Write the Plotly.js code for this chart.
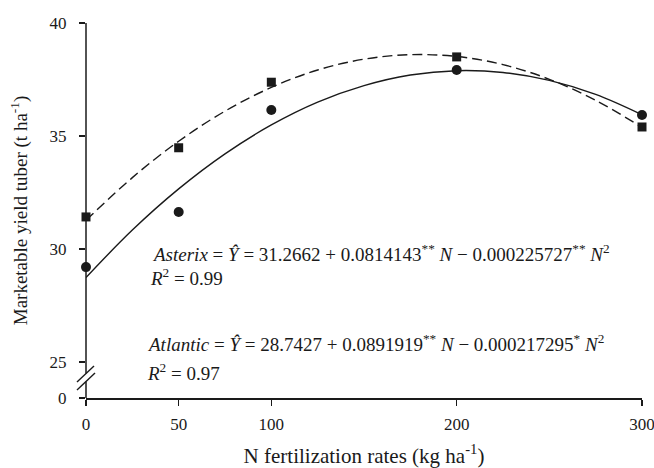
<!DOCTYPE html>
<html>
<head>
<meta charset="utf-8">
<script src="https://cdn.plot.ly/plotly-3.0.1.min.js"></script>
<style>html,body{margin:0;padding:0;background:#fff;}#chart{width:654px;height:468px;}</style>
</head>
<body>
<div id="chart"></div>
<script>
// Observed means
const rates = [0, 50, 100, 200, 300];
const asterixObs = [31.42, 34.48, 37.38, 38.50, 35.40];
const atlanticObs = [29.20, 31.64, 36.15, 37.92, 35.93];

// Fitted curves
const curveN = [0, 25, 50, 75, 100, 125, 150, 175, 200, 225, 250, 275, 300];
const asterixFit = [31.27, 33.16, 34.77, 36.10, 37.15, 37.92, 38.40, 38.60, 38.52, 38.16, 37.51, 36.58, 35.38];
const atlanticFit = [28.74, 30.84, 32.66, 34.21, 35.49, 36.50, 37.23, 37.70, 37.89, 37.81, 37.46, 36.84, 35.94];

// Axis ticks
const xTicks = [0, 50, 100, 200, 300];
const yTickVals = [23.41, 25, 30, 35, 40];
const yTickText = ['0', '25', '30', '35', '40'];

const ink = '#1a1a1a';
const serif = 'Liberation Serif, Times New Roman, DejaVu Serif';

const traces = [
  {x: curveN, y: asterixFit, mode: 'lines', line: {color: ink, width: 1.4, dash: '10px,5px', shape: 'spline', smoothing: 1}, hoverinfo: 'skip'},
  {x: curveN, y: atlanticFit, mode: 'lines', line: {color: ink, width: 1.4, shape: 'spline', smoothing: 1}, hoverinfo: 'skip'},
  {x: rates, y: asterixObs, mode: 'markers', marker: {symbol: 'square', size: 9, color: ink}, cliponaxis: false},
  {x: rates, y: atlanticObs, mode: 'markers', marker: {symbol: 'circle', size: 10, color: ink}, cliponaxis: false}
];

const sup = s => '<sup><span style="color:' + ink + '">' + s + '</span></sup>';

const layout = {
  width: 654, height: 468,
  margin: {l: 86, r: 12, t: 23, b: 70},
  paper_bgcolor: '#fff', plot_bgcolor: '#fff',
  showlegend: false,
  font: {family: serif, color: ink, size: 17},
  xaxis: {
    range: [0, 300], tickvals: xTicks, ticks: 'outside', ticklen: 6, tickwidth: 1.3, tickcolor: ink,
    showline: true, linecolor: ink, linewidth: 1.5, showgrid: false, zeroline: false,
    ticklabelstandoff: 4, ticklabeloverflow: 'allow',
    tickfont: {family: serif, size: 17, color: ink},
    title: {text: 'N fertilization rates (kg ha' + sup('-1') + ')', font: {family: serif, size: 21, color: ink}, standoff: 15}
  },
  yaxis: {
    range: [23.41, 40], tickvals: yTickVals, ticktext: yTickText, ticks: 'outside', ticklen: 6, tickwidth: 1.3, tickcolor: ink,
    showline: false, showgrid: false, zeroline: false, ticklabelstandoff: 9,
    tickfont: {family: serif, size: 17, color: ink},
    title: {text: 'Marketable yield tuber (t ha' + sup('-1') + ')', font: {family: serif, size: 19, color: ink}, standoff: 16}
  },
  shapes: [
    {type: 'line', xref: 'paper', yref: 'paper', x0: 0, x1: 0, y0: 0.0652, y1: 1, line: {color: ink, width: 1.5}},
    {type: 'line', xref: 'paper', yref: 'paper', x0: 0, x1: 0, y0: 0, y1: 0.044, line: {color: ink, width: 1.5}},
    {type: 'line', xref: 'paper', yref: 'paper', x0: -0.0162, x1: 0.0144, y0: 0.0427, y1: 0.0853, line: {color: ink, width: 1.4}},
    {type: 'line', xref: 'paper', yref: 'paper', x0: -0.0162, x1: 0.0162, y0: 0.0213, y1: 0.0667, line: {color: ink, width: 1.4}}
  ],
  annotations: [
    {xref: 'paper', yref: 'paper', x: 0.115, y: 0.387, xanchor: 'left', yanchor: 'middle', showarrow: false,
     font: {family: serif, size: 19, color: ink},
     text: '<i>Asterix</i> = <i>Ŷ</i> = 31.2662 + 0.0814143' + sup('**') + ' <i>N</i> − 0.000225727' + sup('**') + ' <i>N</i>' + sup('2')},
    {xref: 'paper', yref: 'paper', x: 0.1115, y: 0.323, xanchor: 'left', yanchor: 'middle', showarrow: false,
     font: {family: serif, size: 19, color: ink},
     text: '<i>R</i>' + sup('2') + ' = 0.99'},
    {xref: 'paper', yref: 'paper', x: 0.106, y: 0.147, xanchor: 'left', yanchor: 'middle', showarrow: false,
     font: {family: serif, size: 19, color: ink},
     text: '<i>Atlantic</i> = <i>Ŷ</i> = 28.7427 + 0.0891919' + sup('**') + ' <i>N</i> − 0.000217295' + sup('*') + ' <i>N</i>' + sup('2')},
    {xref: 'paper', yref: 'paper', x: 0.106, y: 0.069, xanchor: 'left', yanchor: 'middle', showarrow: false,
     font: {family: serif, size: 19, color: ink},
     text: '<i>R</i>' + sup('2') + ' = 0.97'}
  ]
};

Plotly.newPlot('chart', traces, layout, {displayModeBar: false, staticPlot: true});
</script>
</body>
</html>
